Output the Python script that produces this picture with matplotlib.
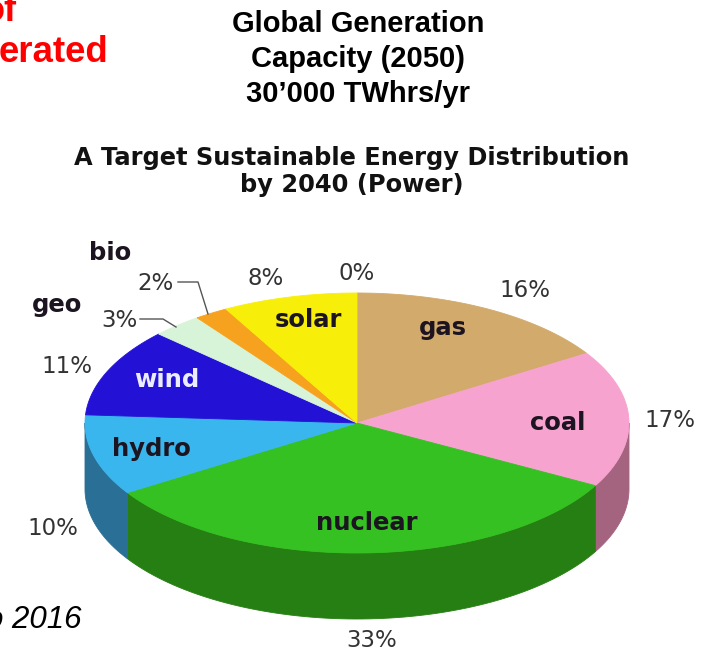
import numpy as np
import matplotlib.pyplot as plt
from matplotlib.patches import Polygon

# slice data, clockwise from 12 o'clock
categories = ['other', 'gas', 'coal', 'nuclear', 'hydro', 'wind', 'geo', 'bio', 'solar']
shares = [0, 16, 17, 33, 10, 11, 3, 2, 8]
pct_labels = ['0%', '16%', '17%', '33%', '10%', '11%', '3%', '2%', '8%']

top_colors = ['#ffffff', '#d2aa6c', '#f7a3cf', '#35c122', '#3ab6ee',
              '#2312d6', '#d8f4d8', '#f7a21e', '#f7ef0a']
side_colors = ['#ffffff', '#9c7a4c', '#a4637f', '#267f12', '#2a6f95',
               '#150a8a', '#a0b8a0', '#b87010', '#b0aa00']

header_lines = ['Global Generation', 'Capacity (2050)', '30\u2019000 TWhrs/yr']
title_lines = ['A Target Sustainable Energy Distribution', 'by 2040 (Power)']

# layout (pixel coordinates, y downwards)
cx, cy, a, b, depth = 357, 423, 272, 130, 66
pct_pos = [(357, 280), (525, 297), (670, 427), (372, 647), (53, 535),
           (67, 373), (119, 327), (156, 290), (266, 285)]
name_pos = {'gas': (443, 335), 'coal': (558, 430), 'nuclear': (367, 530),
            'hydro': (151, 456), 'wind': (167, 387), 'solar': (308, 327),
            'geo': (57, 312), 'bio': (110, 260)}

fig = plt.figure(figsize=(7.25, 6.51), dpi=100)
ax = fig.add_axes([0, 0, 1, 1])
ax.set_xlim(0, 725)
ax.set_ylim(651, 0)
ax.axis('off')


def ell(theta):
    th = np.radians(theta)
    return np.column_stack([cx + a * np.sin(th), cy - b * np.cos(th)])


edges = np.concatenate([[0], np.cumsum(shares)]) * 3.6

# side walls (front half only)
for i in range(len(shares)):
    lo, hi = max(edges[i], 90), min(edges[i + 1], 270)
    if hi > lo:
        arc = ell(np.linspace(lo, hi, 80))
        low = arc[::-1] + [0, depth]
        ax.add_patch(Polygon(np.vstack([arc, low]), closed=True,
                             fc=side_colors[i], ec=side_colors[i], lw=0.6))

# top faces
for i in range(len(shares)):
    if shares[i] == 0:
        continue
    arc = ell(np.linspace(edges[i], edges[i + 1], 80))
    pts = np.vstack([[cx, cy], arc])
    ax.add_patch(Polygon(pts, closed=True, fc=top_colors[i], ec=top_colors[i], lw=0.6))

# percent labels
for lab, (x, y) in zip(pct_labels, pct_pos):
    ax.text(x, y, lab, ha='center', va='baseline', fontsize=16.5,
            color='#333333', family='DejaVu Sans')

# category names
for name, (x, y) in name_pos.items():
    col = '#ececff' if name == 'wind' else '#1c1420'
    ax.text(x, y, name, ha='center', va='baseline', fontsize=17.5,
            fontweight='bold', color=col, family='DejaVu Sans')

# leader lines for the thin slices
ax.plot([178, 198, 208], [282, 282, 314], color='#555555', lw=1)
ax.plot([140, 163, 176], [319, 319, 327], color='#555555', lw=1)

fig.canvas.draw()
renderer = fig.canvas.get_renderer()


def fit(t, width):
    w = t.get_window_extent(renderer).width
    t.set_fontsize(t.get_fontsize() * width / w)


# header
for k, line in enumerate(header_lines):
    t = ax.text(358, 32 + 35 * k, line, ha='center', va='baseline', fontsize=20,
                fontweight='bold', family='Liberation Sans', color='black')
    if k == 0:
        fit(t, 252)
        hsize = t.get_fontsize()
    else:
        t.set_fontsize(hsize)

# cropped red text on the left
ax.text(17, 21, 'of', ha='right', va='baseline', fontsize=26,
        fontweight='bold', family='Liberation Sans', color='#ff0000')
red = ax.text(108, 62, 'erated', ha='right', va='baseline', fontsize=26,
              fontweight='bold', family='Liberation Sans', color='#ff0000')
fit(red, 110)

# chart title
t1 = ax.text(352, 165, title_lines[0], ha='center', va='baseline', fontsize=15,
             fontweight='bold', family='DejaVu Sans', color='#111111')
fit(t1, 559)
ax.text(352, 192, title_lines[1], ha='center', va='baseline',
        fontsize=t1.get_fontsize(), fontweight='bold', family='DejaVu Sans',
        color='#111111')

# cropped italic footnote
ax.text(82, 628, 'o 2016', ha='right', va='baseline', fontsize=22.5,
        style='italic', family='Liberation Sans', color='black')

fig.savefig('out.png', dpi=100)
